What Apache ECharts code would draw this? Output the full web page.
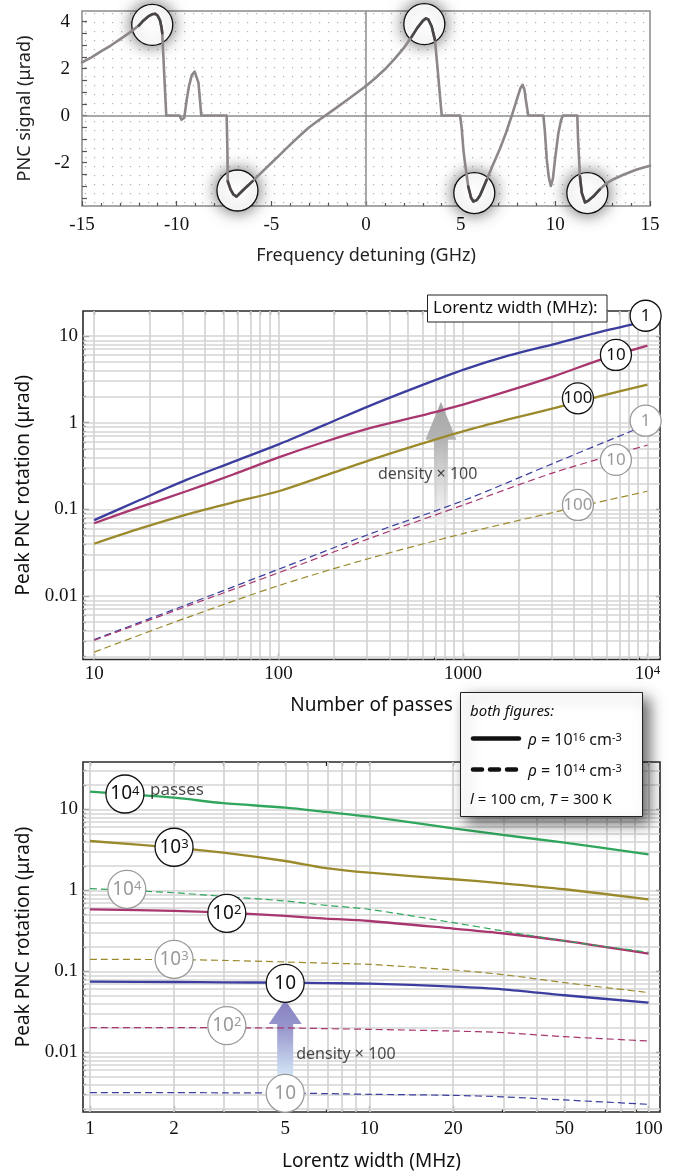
<!DOCTYPE html>
<html><head><meta charset="utf-8">
<script src="https://cdn.jsdelivr.net/npm/echarts@6/dist/echarts.min.js"></script>
<style>html,body{margin:0;padding:0;background:#fff}#c{width:677px;height:1174px}</style>
</head><body><div id="c"></div>
<script>
// ================= DATA =================
// Panel 1: PNC signal vs frequency detuning
const detuningGHz = [-15,-14.5,-14,-13.5,-13,-12.5,-12,-11.75,-11.5,-11.3,-11.13,-11,-10.88,-10.8,-10.76,-10.66,-10.55,
 -10.2,-9.85,-9.75,-9.68,-9.6,-9.47,-9.35,-9.2,-9.05,-8.95,-8.85,-8.75,-8.7,-8,-7.36,
 -7.32,-7.3,-7.15,-7.0,-6.84,-6.5,-6,-5.5,-5,-4.5,-4,-3.5,-3,-2.5,-2,-1.5,-1,-0.5,0,0.5,1,1.5,2,2.4,2.7,3,3.17,3.3,3.47,3.64,3.77,3.91,4.0,
 4.5,4.97,5.05,5.15,5.23,5.4,5.55,5.67,5.85,6.02,6.37,6.7,7.08,7.4,7.7,7.96,8.15,8.27,8.37,8.44,8.57,9,9.37,9.45,9.55,9.65,9.76,9.87,9.98,10.16,10.3,10.4,11.16,11.2,11.3,11.4,11.57,11.75,12,12.35,12.71,13.1,13.59,14.3,15];
const pncSignal = [2.26,2.48,2.73,2.97,3.24,3.52,3.83,4.05,4.22,4.31,4.33,4.25,4.05,3.75,3.5,1.8,0,
 0,0,-0.18,-0.26,-0.1,0.67,1.25,1.72,1.87,1.8,1.4,0.5,0,0,0,
 -1.5,-2.8,-3.15,-3.36,-3.45,-3.18,-2.8,-2.41,-2.02,-1.63,-1.24,-0.86,-0.5,-0.2,0.08,0.37,0.66,0.96,1.26,1.6,1.97,2.4,2.88,3.34,3.72,4.03,4.14,4.08,3.79,3.22,2.09,0.81,0,
 0,0,-0.5,-1.5,-2.03,-3.02,-3.5,-3.66,-3.6,-3.4,-2.74,-2.1,-1.4,-0.72,0,0.67,1.15,1.31,1.1,0.67,0,0,0,-0.7,-1.89,-2.6,-3.0,-2.7,-1.89,-0.75,-0.2,0,0,-1.0,-2.6,-3.3,-3.7,-3.62,-3.45,-3.14,-2.88,-2.7,-2.52,-2.3,-2.14];
const peakCircleGHz = [-11.29, 3.08, -6.79, 5.72, 11.69];
const peakCircleSignal = [3.86, 3.89, -3.19, -3.30, -3.30];
const yTicksTop = [-2,0,2,4];

// Panel 2: peak PNC rotation vs number of passes
const passesSolid = [10,17.8,31.6,56.2,100,178,316,562,1000,1778,3162,5623,10000];
const rotW1 = [0.0753,0.129,0.219,0.351,0.562,0.944,1.585,2.57,4.07,5.96,8.13,11.2,14.8];
const rotW10 = [0.0692,0.107,0.162,0.251,0.398,0.603,0.871,1.175,1.62,2.34,3.47,5.37,7.76];
const rotW100 = [0.0402,0.0603,0.0871,0.120,0.162,0.245,0.372,0.550,0.794,1.096,1.479,2.04,2.75];
const passesDashed = [10,31.6,100,316,1000,3162,10000];
const rotW1Low = [0.00316,0.00794,0.0204,0.0525,0.126,0.347,0.955];
const rotW10Low = [0.00309,0.00759,0.0186,0.0468,0.112,0.269,0.550];
const rotW100Low = [0.00226,0.00562,0.0132,0.0275,0.0525,0.0933,0.162];
const midLabelNames = ['1','10','100'];
const midLabelPasses = [9772,6745,4198];
const midLabelRotSolid = [17.1,6.04,1.91];
const midLabelRotDashed = [1.054,0.372,0.1125];
const midArrow = [759, 0.063, 1.746];      // passes, from, to
const midArrowText = [643, 0.254];
const passesTicks = [10,100,1000,10000];
const rotTicks = [0.01,0.1,1,10];

// Panel 3: peak PNC rotation vs Lorentz width
const widthMHz = [1,2,3,5,7,10,20,30,50,100];
const rotN4 = [16.5,13.9,11.9,10.5,9.27,8.11,5.82,4.84,3.87,2.78];
const rotN3 = [4.06,3.37,2.92,2.30,1.88,1.65,1.37,1.22,1.03,0.774];
const rotN2 = [0.582,0.558,0.531,0.482,0.447,0.418,0.337,0.295,0.237,0.165];
const rotN1 = [0.0745,0.0738,0.0731,0.0724,0.0714,0.0705,0.0647,0.060,0.0506,0.0410];
const rotN4Low = [1.048,0.933,0.841,0.738,0.653,0.582,0.398,0.316,0.237,0.172];
const rotN3Low = [0.1406,0.1393,0.1365,0.1303,0.126,0.1219,0.1038,0.0912,0.0724,0.0546];
const rotN2Low = [0.0202,0.0202,0.0201,0.0200,0.0196,0.0192,0.0183,0.0175,0.0156,0.0138];
const rotN1Low = [0.00318,0.00318,0.00316,0.00315,0.00309,0.00303,0.00294,0.00282,0.00258,0.00228];
const botLabelNames = ['10^4','10^3','10^2','10'];
const botLabelWidth = [1.334,2.0,3.09,5.0];
const botLabelRotSolid = [15.45,3.40,0.52,0.0711];
const botLabelWidthDashed = [1.355,2.0,3.09,5.0];
const botLabelRotDashed = [1.028,0.1406,0.0213,0.00312];
const botArrow = [5, 0.00482, 0.0443];
const botArrowText = [8.25, 0.00953];
const passesWordPos = [1.64, 17.3];
const widthTicks = [1,2,5,10,20,50,100];

// ================= HELPERS =================
const SANS = 'Noto Sans, DejaVu Sans, sans-serif';
const SERIF = 'Liberation Serif, DejaVu Serif, serif';
const L = Math.log10;
const pairs = (xs, ys) => xs.map((x, i) => [L(x), L(ys[i])]);
function gridVals(lo, hi) {
  const o = [];
  for (let k = -4; k <= 5; k++) for (let m = 1; m <= 9; m++) {
    const v = +(m * Math.pow(10, k)).toPrecision(6);
    if (v >= lo * 0.9999 && v <= hi * 1.0001) o.push(v);
  }
  return o;
}
const TICK = '#222';
const dark = { color: TICK, width: 1.2 };
const NOLINE = { show: false, onZero: false };
const serifLbl = { color: '#111', fontFamily: SERIF, fontSize: 19 };

function logAxesX(gi, min, max, majors, all, fmt, name, nameGap, labelMargin) {
  const minors = all.filter(v => majors.indexOf(v) < 0);
  const base = { type: 'value', gridIndex: gi, min, max, axisLine: NOLINE, splitLine: { show: false } };
  return [
    Object.assign({}, base, { position: 'bottom',
      axisTick: { inside: true, length: 6, customValues: majors.map(L), lineStyle: dark },
      axisLabel: Object.assign({ customValues: majors.map(L), formatter: fmt, margin: labelMargin,
        rich: { n: { fontFamily: SERIF, fontSize: 19, color: '#111' }, s: { fontFamily: SERIF, fontSize: 13, color: '#111', verticalAlign: 'top' } } }, serifLbl),
      name, nameLocation: 'middle', nameGap, nameTextStyle: { fontFamily: SANS, fontSize: 19, color: '#111' } }),
    Object.assign({}, base, { position: 'bottom', axisLabel: { show: false },
      axisTick: { inside: true, length: 3, customValues: minors.map(L), lineStyle: dark } }),
    Object.assign({}, base, { position: 'top', axisLabel: { show: false },
      axisTick: { inside: true, length: 4, customValues: all.map(L), lineStyle: dark } })
  ];
}
function logAxesY(gi, min, max, majors, all, fmt, name, nameGap) {
  const minors = all.filter(v => majors.indexOf(v) < 0);
  const base = { type: 'value', gridIndex: gi, min, max, axisLine: NOLINE, splitLine: { show: false } };
  return [
    Object.assign({}, base, { position: 'left',
      axisTick: { inside: true, length: 6, customValues: majors.map(L), lineStyle: dark },
      axisLabel: Object.assign({ customValues: majors.map(L), formatter: fmt, margin: 5 }, serifLbl),
      name, nameLocation: 'middle', nameRotate: 90, nameGap, nameTextStyle: { fontFamily: SANS, fontSize: 19, color: '#111' } }),
    Object.assign({}, base, { position: 'left', axisLabel: { show: false },
      axisTick: { inside: true, length: 3, customValues: minors.map(L), lineStyle: dark } }),
    Object.assign({}, base, { position: 'right', axisLabel: { show: false },
      axisTick: { inside: true, length: 4, customValues: majors.map(L), lineStyle: dark } })
  ];
}
function gridLines(xi, yi, xs, ys) {
  const data = xs.map(v => ({ xAxis: L(v) })).concat(ys.map(v => ({ yAxis: L(v) })));
  return { type: 'line', xAxisIndex: xi, yAxisIndex: yi, data: [], silent: true, z: 1,
    markLine: { silent: true, z: 1, symbol: ['none', 'none'], animation: false, label: { show: false },
      lineStyle: { color: '#d4d4d4', width: 1.7, type: 'solid' }, emphasis: { disabled: true }, data } };
}
function lineS(xi, yi, data, color, dashed) {
  return { type: 'line', xAxisIndex: xi, yAxisIndex: yi, data, symbol: 'none', smooth: 0.3, z: 3, silent: true,
    lineStyle: dashed ? { color, width: 1.2, type: [7, 4] } : { color, width: 2.3 } };
}
function supFmt(p) { const s = p.name.split('^'); return '{n|' + s[0] + '}' + (s[1] ? '{s|' + s[1] + '}' : ''); }
function circleS(xi, yi, xs, ys, names, size, color, fs) {
  return { type: 'scatter', xAxisIndex: xi, yAxisIndex: yi, symbolSize: size, z: 5, silent: true,
    data: xs.map((x, i) => ({ name: names[i], value: [L(x), L(ys[i])] })),
    itemStyle: { color: '#fff', borderColor: color, borderWidth: 1.3, opacity: 1 },
    label: { show: true, position: 'inside', formatter: supFmt, color,
      rich: { n: { fontFamily: SANS, fontSize: fs, color }, s: { fontFamily: SANS, fontSize: Math.round(fs * 0.68), color, verticalAlign: 'top' } } } };
}
function textS(xi, yi, pos, text, align, fs) {
  return { type: 'scatter', xAxisIndex: xi, yAxisIndex: yi, symbolSize: 1, z: 6, silent: true,
    data: [{ value: [L(pos[0]), L(pos[1])] }], itemStyle: { color: 'rgba(0,0,0,0)' },
    label: { show: true, position: 'inside', align: align || 'center', formatter: text, color: '#1a1a1a', fontFamily: SANS, fontSize: fs || 16 } };
}
function arrowS(xi, yi, arr, headLen, headW, shaftW, stops) {
  return { type: 'custom', xAxisIndex: xi, yAxisIndex: yi, z: 2, silent: true,
    data: [[L(arr[0]), L(arr[1]), L(arr[2])]], encode: { x: 0, y: [1, 2] },
    renderItem: function (params, api) {
      const b = api.coord([api.value(0), api.value(1)]), t = api.coord([api.value(0), api.value(2)]);
      const cx = b[0], yb = b[1], yt = t[1], yh = yt + headLen;
      return { type: 'polygon', shape: { points: [[cx - shaftW / 2, yb], [cx - shaftW / 2, yh], [cx - headW / 2, yh], [cx, yt], [cx + headW / 2, yh], [cx + shaftW / 2, yh], [cx + shaftW / 2, yb]] },
        style: { fill: new echarts.graphic.LinearGradient(0, 0, 0, 1, stops) } };
    } };
}

// dotted background pattern for panel 1
const pc = document.createElement('canvas'); pc.width = 9; pc.height = 9;
const pctx = pc.getContext('2d'); pctx.fillStyle = '#b0b0b0'; pctx.fillRect(4, 4, 1.2, 1.2);

// ================= OPTION =================
const midX = gridVals(10, 10000), midY = gridVals(0.002, 10);
const botX = gridVals(1, 100), botY = gridVals(0.002, 30);
const fmtPow = v => { const n = Math.round(Math.pow(10, v)); return n === 10000 ? '{n|10}{s|4}' : '{n|' + n + '}'; };
const fmtRot = v => String(+Math.pow(10, v).toPrecision(3));
const fmtW = v => '{n|' + Math.round(Math.pow(10, v)) + '}';

const xAxes = [{
  type: 'value', gridIndex: 0, min: -15, max: 15, interval: 5, axisLine: NOLINE, splitLine: { show: false },
  axisTick: { inside: true, length: 5, lineStyle: { color: '#555', width: 1.2 } },
  minorTick: { show: true, splitNumber: 5, length: 3, lineStyle: { color: '#555', width: 1.2 } },
  axisLabel: Object.assign({ margin: 10 }, serifLbl),
  name: 'Frequency detuning (GHz)', nameLocation: 'middle', nameGap: 41, nameTextStyle: { fontFamily: SANS, fontSize: 18, color: '#222' }
}].concat(
  logAxesX(1, L(8.7), 4.068, passesTicks, midX, fmtPow, 'Number of passes', 37, 5),
  logAxesX(2, -0.025, 2.041, widthTicks, botX, fmtW, 'Lorentz width (MHz)', 40, 8)
);
const yAxes = [{
  type: 'value', gridIndex: 0, min: -3.85, max: 4.45, axisLine: NOLINE, splitLine: { show: false },
  axisTick: { inside: true, length: 5, customValues: [-3.5,-3,-2.5,-2,-1.5,-1,-0.5,0,0.5,1,1.5,2,2.5,3,3.5,4], lineStyle: { color: '#555', width: 1.2 } },
  axisLabel: Object.assign({ customValues: yTicksTop, margin: 12 }, serifLbl),
  name: 'PNC signal (μrad)', nameLocation: 'middle', nameRotate: 90, nameGap: 48, nameTextStyle: { fontFamily: SANS, fontSize: 18, color: '#222' }
}].concat(
  logAxesY(1, -2.731, 1.288, rotTicks, midY, fmtRot, 'Peak PNC rotation (μrad)', 50),
  logAxesY(2, -2.737, 1.584, rotTicks, botY, fmtRot, 'Peak PNC rotation (μrad)', 50)
);

const BLUE = '#3b3e9e', MAG = '#a8376f', OLIVE = '#9b8a2c', GREEN = '#2fa65b';
const GRAYC = '#9a9a9a', BLK = '#111';

const series = [
  // ---- panel 1 ----
  { type: 'line', xAxisIndex: 0, yAxisIndex: 0, data: [], silent: true, z: 1,
    markLine: { silent: true, z: 1, symbol: ['none', 'none'], animation: false, label: { show: false },
      lineStyle: { color: '#8c8c8c', width: 1.5, type: 'solid' }, data: [{ xAxis: 0 }, { yAxis: 0 }] } },
  { type: 'scatter', xAxisIndex: 0, yAxisIndex: 0, symbolSize: 41, z: 2, silent: true,
    data: peakCircleGHz.map((x, i) => [x, peakCircleSignal[i]]),
    itemStyle: { color: '#fff', borderColor: '#111', borderWidth: 1.3, shadowBlur: 16, shadowColor: 'rgba(0,0,0,0.6)', opacity: 1 } },
  { type: 'line', xAxisIndex: 0, yAxisIndex: 0, data: detuningGHz.map((x, i) => [x, pncSignal[i]]), symbol: 'none', z: 3, silent: true,
    lineStyle: { color: '#8d8787', width: 2.6, cap: 'round', join: 'round' } },
  { type: 'line', xAxisIndex: 0, yAxisIndex: 0, data: [], symbol: 'none', z: 4, silent: true, connectNulls: false,
    lineStyle: { color: '#4a4545', width: 2.6, cap: 'round', join: 'round' } },
  // ---- panel 2 ----
  gridLines(1, 1, midX, midY),
  arrowS(1, 1, midArrow, 38, 31, 14, [{ offset: 0, color: '#a6a6a6' }, { offset: 0.3, color: '#b3b3b3' }, { offset: 1, color: 'rgba(238,238,238,0.5)' }]),
  lineS(1, 1, pairs(passesSolid, rotW1), BLUE, false),
  lineS(1, 1, pairs(passesSolid, rotW10), MAG, false),
  lineS(1, 1, pairs(passesSolid, rotW100), OLIVE, false),
  lineS(1, 1, pairs(passesDashed, rotW1Low), BLUE, true),
  lineS(1, 1, pairs(passesDashed, rotW10Low), MAG, true),
  lineS(1, 1, pairs(passesDashed, rotW100Low), OLIVE, true),
  circleS(1, 1, midLabelPasses, midLabelRotSolid, midLabelNames, 31, BLK, 17),
  circleS(1, 1, midLabelPasses, midLabelRotDashed, midLabelNames, 31, GRAYC, 17),
  textS(1, 1, midArrowText, 'density × 100', 'center', 16),
  // ---- panel 3 ----
  gridLines(4, 4, botX, botY),
  arrowS(4, 4, botArrow, 24, 33, 16, [{ offset: 0, color: '#8480c0' }, { offset: 0.35, color: '#9896cc' }, { offset: 1, color: '#d6e9f8' }]),
  lineS(4, 4, pairs(widthMHz, rotN4), GREEN, false),
  lineS(4, 4, pairs(widthMHz, rotN3), OLIVE, false),
  lineS(4, 4, pairs(widthMHz, rotN2), MAG, false),
  lineS(4, 4, pairs(widthMHz, rotN1), BLUE, false),
  lineS(4, 4, pairs(widthMHz, rotN4Low), GREEN, true),
  lineS(4, 4, pairs(widthMHz, rotN3Low), OLIVE, true),
  lineS(4, 4, pairs(widthMHz, rotN2Low), MAG, true),
  lineS(4, 4, pairs(widthMHz, rotN1Low), BLUE, true),
  circleS(4, 4, botLabelWidth, botLabelRotSolid, botLabelNames, 38, BLK, 19),
  circleS(4, 4, botLabelWidthDashed, botLabelRotDashed, botLabelNames, 38, GRAYC, 19),
  textS(4, 4, botArrowText, 'density × 100', 'center', 16),
  textS(4, 4, passesWordPos, 'passes', 'left', 17)
];

const itl = { fontFamily: SANS, fontSize: 15, fill: '#111', fontStyle: 'italic' };
const graphic = [
  { type: 'rect', z: 50, shape: { x: 427.5, y: 295, width: 179.5, height: 27 }, style: { fill: '#fff', stroke: '#222', lineWidth: 1 } },
  { type: 'text', z: 51, x: 433, y: 308.5, style: { text: 'Lorentz width (MHz):', fontFamily: SANS, fontSize: 17, fill: '#111', verticalAlign: 'middle' } },
  { type: 'rect', z: 60, shape: { x: 460.5, y: 692.5, width: 182, height: 124 },
    style: { fill: '#fff', stroke: '#222', lineWidth: 1, shadowBlur: 14, shadowOffsetX: 6, shadowOffsetY: 6, shadowColor: 'rgba(0,0,0,0.6)' } },
  { type: 'text', z: 61, x: 470, y: 711.5, style: Object.assign({ text: 'both figures:', verticalAlign: 'middle' }, itl) },
  { type: 'line', z: 61, shape: { x1: 473, y1: 738.5, x2: 519, y2: 738.5 }, style: { stroke: '#111', lineWidth: 4.5, lineCap: 'round' } },
  { type: 'line', z: 61, shape: { x1: 473, y1: 769.5, x2: 517, y2: 769.5 }, style: { stroke: '#111', lineWidth: 4.5, lineCap: 'round', lineDash: [9, 8] } },
  { type: 'text', z: 61, x: 528, y: 740, style: { text: '{i|ρ} = 10{s|16} cm{s|-3}', fontFamily: SANS, fontSize: 16, fill: '#111', verticalAlign: 'middle',
      rich: { i: { fontFamily: SANS, fontSize: 16, fontStyle: 'italic', fill: '#111' }, s: { fontFamily: SANS, fontSize: 11, fill: '#111', verticalAlign: 'top' } } } },
  { type: 'text', z: 61, x: 528, y: 771, style: { text: '{i|ρ} = 10{s|14} cm{s|-3}', fontFamily: SANS, fontSize: 16, fill: '#111', verticalAlign: 'middle',
      rich: { i: { fontFamily: SANS, fontSize: 16, fontStyle: 'italic', fill: '#111' }, s: { fontFamily: SANS, fontSize: 11, fill: '#111', verticalAlign: 'top' } } } },
  { type: 'text', z: 61, x: 470, y: 799.5, style: { text: '{i|l} = 100 cm, {i|T} = 300 K', fontFamily: SANS, fontSize: 15, fill: '#111', verticalAlign: 'middle',
      rich: { i: { fontFamily: SANS, fontSize: 15, fontStyle: 'italic', fill: '#111' } } } }
];

const option = {
  animation: false,
  backgroundColor: '#fff',
  grid: [
    { left: 82, top: 11, width: 568, height: 195, show: true, borderColor: '#8a8a8a', borderWidth: 1.5, backgroundColor: { image: pc, repeat: 'repeat' } },
    { left: 83, top: 311, width: 577, height: 348.5, show: true, borderColor: '#2a2a2a', borderWidth: 1.6, backgroundColor: 'transparent' },
    { left: 83, top: 762, width: 577, height: 350, show: true, borderColor: '#2a2a2a', borderWidth: 1.6, backgroundColor: 'transparent' }
  ],
  xAxis: xAxes, yAxis: yAxes, series, graphic
};

const chart = echarts.init(document.getElementById('c'), null, { renderer: 'canvas', width: 677, height: 1174 });
chart.setOption(option);

// darker curve inside the highlight circles (pixel test through the chart's own scales)
const ctr = peakCircleGHz.map((x, i) => chart.convertToPixel({ xAxisIndex: 0, yAxisIndex: 0 }, [x, peakCircleSignal[i]]));
const darkData = detuningGHz.map((x, i) => {
  const p = chart.convertToPixel({ xAxisIndex: 0, yAxisIndex: 0 }, [x, pncSignal[i]]);
  return ctr.some(c => Math.hypot(p[0] - c[0], p[1] - c[1]) <= 21) ? [x, pncSignal[i]] : [x, '-'];
});
series[3].data = darkData;
chart.setOption({ series });
</script></body></html>
